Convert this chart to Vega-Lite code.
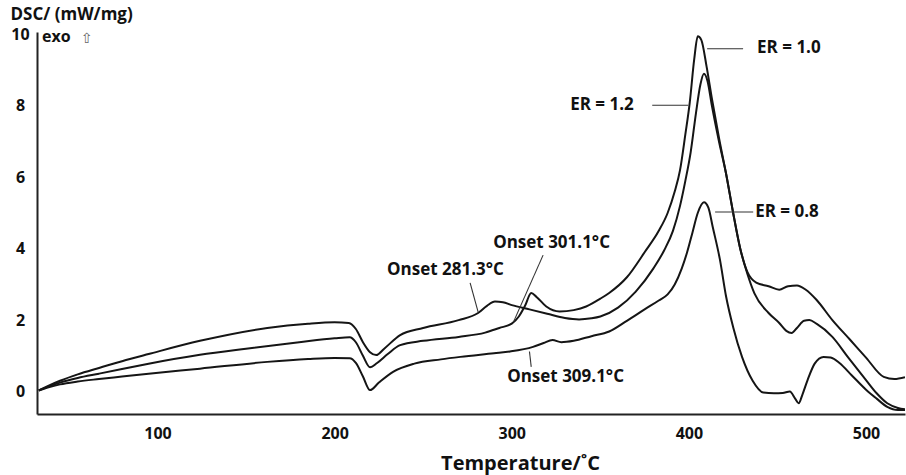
{
  "$schema": "https://vega.github.io/schema/vega-lite/v6.json",
  "width": 868,
  "height": 382,
  "autosize": "none",
  "padding": {"left": 37, "top": 32, "right": 1, "bottom": 61},
  "background": "white",
  "config": {
    "view": {"stroke": null},
    "font": "Open Sans",
    "text": {"font": "Open Sans", "fontWeight": "bold", "fontSize": 17, "color": "#111"}
  },
  "datasets": {
    "curves": [
      {"s":"A","T":33,"v":0.03},{"s":"A","T":38,"v":0.15},{"s":"A","T":45,"v":0.3},{"s":"A","T":55,"v":0.48},{"s":"A","T":67,"v":0.66},{"s":"A","T":80,"v":0.85},{"s":"A","T":95,"v":1.05},{"s":"A","T":124,"v":1.42},{"s":"A","T":162,"v":1.78},{"s":"A","T":185,"v":1.9},{"s":"A","T":200,"v":1.94},{"s":"A","T":208,"v":1.92},{"s":"A","T":212,"v":1.75},{"s":"A","T":216,"v":1.38},{"s":"A","T":220,"v":1.1},{"s":"A","T":223.5,"v":1.02},{"s":"A","T":228,"v":1.2},{"s":"A","T":237,"v":1.58},{"s":"A","T":250,"v":1.78},{"s":"A","T":270,"v":2.0},{"s":"A","T":281,"v":2.2},{"s":"A","T":286,"v":2.4},{"s":"A","T":290.5,"v":2.52},{"s":"A","T":295,"v":2.5},{"s":"A","T":300,"v":2.42},{"s":"A","T":310,"v":2.3},{"s":"A","T":320,"v":2.18},{"s":"A","T":330,"v":2.06},{"s":"A","T":338,"v":2.02},{"s":"A","T":345,"v":2.05},{"s":"A","T":350,"v":2.1},{"s":"A","T":360,"v":2.35},{"s":"A","T":370,"v":2.8},{"s":"A","T":380,"v":3.45},{"s":"A","T":386,"v":3.95},{"s":"A","T":391,"v":4.5},{"s":"A","T":395,"v":5.2},{"s":"A","T":398,"v":5.9},{"s":"A","T":401,"v":6.7},{"s":"A","T":404,"v":7.8},{"s":"A","T":406.5,"v":8.6},{"s":"A","T":408.5,"v":8.9},{"s":"A","T":410.5,"v":8.7},{"s":"A","T":413,"v":8.0},{"s":"A","T":417,"v":7.0},{"s":"A","T":421,"v":6.1},{"s":"A","T":425,"v":5.0},{"s":"A","T":429,"v":4.0},{"s":"A","T":433,"v":3.3},{"s":"A","T":437,"v":2.75},{"s":"A","T":445,"v":2.2},{"s":"A","T":451,"v":1.92},{"s":"A","T":455,"v":1.7},{"s":"A","T":458,"v":1.64},{"s":"A","T":461,"v":1.78},{"s":"A","T":465,"v":1.98},{"s":"A","T":468,"v":2.0},{"s":"A","T":472,"v":1.9},{"s":"A","T":481,"v":1.53},{"s":"A","T":490,"v":0.95},{"s":"A","T":500,"v":0.32},{"s":"A","T":506,"v":-0.05},{"s":"A","T":512,"v":-0.33},{"s":"A","T":518,"v":-0.46},{"s":"A","T":522,"v":-0.5},
      {"s":"B","T":33,"v":0.03},{"s":"B","T":38,"v":0.13},{"s":"B","T":45,"v":0.25},{"s":"B","T":55,"v":0.38},{"s":"B","T":67,"v":0.5},{"s":"B","T":80,"v":0.63},{"s":"B","T":95,"v":0.78},{"s":"B","T":124,"v":1.03},{"s":"B","T":150,"v":1.2},{"s":"B","T":180,"v":1.38},{"s":"B","T":200,"v":1.49},{"s":"B","T":208.5,"v":1.52},{"s":"B","T":212,"v":1.38},{"s":"B","T":216,"v":1.0},{"s":"B","T":220,"v":0.68},{"s":"B","T":224,"v":0.8},{"s":"B","T":230,"v":1.05},{"s":"B","T":237,"v":1.3},{"s":"B","T":250,"v":1.42},{"s":"B","T":270,"v":1.53},{"s":"B","T":285,"v":1.65},{"s":"B","T":293,"v":1.78},{"s":"B","T":300,"v":1.9},{"s":"B","T":304,"v":2.1},{"s":"B","T":307.5,"v":2.4},{"s":"B","T":311,"v":2.76},{"s":"B","T":314,"v":2.65},{"s":"B","T":319.5,"v":2.38},{"s":"B","T":327,"v":2.24},{"s":"B","T":335,"v":2.28},{"s":"B","T":342,"v":2.38},{"s":"B","T":350,"v":2.6},{"s":"B","T":355,"v":2.76},{"s":"B","T":365,"v":3.2},{"s":"B","T":375,"v":3.9},{"s":"B","T":383,"v":4.5},{"s":"B","T":388,"v":5.0},{"s":"B","T":392,"v":5.6},{"s":"B","T":395,"v":6.2},{"s":"B","T":398,"v":7.2},{"s":"B","T":400.5,"v":8.1},{"s":"B","T":403,"v":9.3},{"s":"B","T":405,"v":9.95},{"s":"B","T":407,"v":9.85},{"s":"B","T":410,"v":9.1},{"s":"B","T":413,"v":8.2},{"s":"B","T":417,"v":7.1},{"s":"B","T":421,"v":6.1},{"s":"B","T":425,"v":5.0},{"s":"B","T":429,"v":4.0},{"s":"B","T":433,"v":3.35},{"s":"B","T":438,"v":3.05},{"s":"B","T":445,"v":2.95},{"s":"B","T":451,"v":2.85},{"s":"B","T":456,"v":2.95},{"s":"B","T":461,"v":2.97},{"s":"B","T":466,"v":2.85},{"s":"B","T":472,"v":2.57},{"s":"B","T":481,"v":2.0},{"s":"B","T":491,"v":1.45},{"s":"B","T":500,"v":0.95},{"s":"B","T":510,"v":0.41},{"s":"B","T":516,"v":0.35},{"s":"B","T":522,"v":0.4},
      {"s":"C","T":33,"v":0.03},{"s":"C","T":38,"v":0.11},{"s":"C","T":45,"v":0.2},{"s":"C","T":55,"v":0.28},{"s":"C","T":67,"v":0.35},{"s":"C","T":80,"v":0.42},{"s":"C","T":95,"v":0.5},{"s":"C","T":124,"v":0.64},{"s":"C","T":162,"v":0.83},{"s":"C","T":185,"v":0.91},{"s":"C","T":200,"v":0.94},{"s":"C","T":208.5,"v":0.93},{"s":"C","T":212,"v":0.8},{"s":"C","T":216,"v":0.42},{"s":"C","T":220,"v":0.04},{"s":"C","T":225,"v":0.25},{"s":"C","T":233,"v":0.55},{"s":"C","T":245,"v":0.78},{"s":"C","T":260,"v":0.9},{"s":"C","T":271,"v":0.97},{"s":"C","T":290,"v":1.07},{"s":"C","T":299,"v":1.12},{"s":"C","T":312,"v":1.25},{"s":"C","T":318,"v":1.36},{"s":"C","T":323,"v":1.44},{"s":"C","T":328,"v":1.38},{"s":"C","T":335,"v":1.42},{"s":"C","T":345,"v":1.55},{"s":"C","T":355,"v":1.68},{"s":"C","T":365,"v":1.98},{"s":"C","T":375,"v":2.3},{"s":"C","T":383,"v":2.55},{"s":"C","T":388,"v":2.72},{"s":"C","T":392,"v":3.0},{"s":"C","T":396,"v":3.45},{"s":"C","T":399,"v":3.9},{"s":"C","T":402,"v":4.45},{"s":"C","T":405,"v":5.0},{"s":"C","T":408.5,"v":5.3},{"s":"C","T":411,"v":5.15},{"s":"C","T":413.5,"v":4.6},{"s":"C","T":417.5,"v":3.7},{"s":"C","T":421,"v":2.66},{"s":"C","T":425,"v":1.8},{"s":"C","T":430,"v":0.97},{"s":"C","T":436,"v":0.3},{"s":"C","T":442,"v":-0.03},{"s":"C","T":448,"v":-0.05},{"s":"C","T":453,"v":-0.04},{"s":"C","T":457,"v":0.0},{"s":"C","T":460,"v":-0.2},{"s":"C","T":462,"v":-0.33},{"s":"C","T":464,"v":-0.1},{"s":"C","T":467,"v":0.32},{"s":"C","T":471,"v":0.78},{"s":"C","T":476,"v":0.97},{"s":"C","T":480,"v":0.95},{"s":"C","T":485,"v":0.8},{"s":"C","T":492,"v":0.45},{"s":"C","T":500,"v":0.05},{"s":"C","T":506,"v":-0.2},{"s":"C","T":512,"v":-0.43},{"s":"C","T":518,"v":-0.52},{"s":"C","T":522,"v":-0.52}
    ],
    "leaders": [
      {"T":410.3,"T2":430.6,"v":9.6,"v2":9.6},
      {"T":379.3,"T2":399.6,"v":8.02,"v2":8.02},
      {"T":414.8,"T2":436.3,"v":5.03,"v2":5.03},
      {"T":276.5,"T2":281,"v":3.04,"v2":2.23},
      {"T":317.7,"T2":301,"v":3.82,"v2":1.95},
      {"T":310,"T2":311,"v":1.12,"v2":0.69}
    ],
    "labels": [
      {"T":438.5,"v":9.62,"label":"ER = 1.0"},
      {"T":333,"v":8.02,"label":"ER = 1.2"},
      {"T":437.4,"v":5.03,"label":"ER = 0.8"},
      {"T":229.6,"v":3.4,"label":"Onset 281.3°C"},
      {"T":289.5,"v":4.16,"label":"Onset 301.1°C"},
      {"T":297.4,"v":0.41,"label":"Onset 309.1°C"}
    ],
    "exo": [
      {"T":34.8,"v":9.93,"label":"exo"}
    ],
    "arrow": [
      {"T":60,"v":9.86,"label":"⇧"}
    ]
  },
  "layer": [
    {
      "data": {"name": "curves"},
      "mark": {"type": "line", "interpolate": "monotone", "stroke": "#151515", "strokeWidth": 2, "clip": true},
      "encoding": {
        "x": {
          "field": "T", "type": "quantitative",
          "scale": {"domain": [32, 522], "nice": false, "zero": false},
          "axis": {
            "values": [100, 200, 300, 400, 500],
            "grid": false, "ticks": false,
            "domainColor": "#222", "domainWidth": 2,
            "labelFont": "Open Sans", "labelFontWeight": "bold", "labelFontSize": 16, "labelColor": "#111",
            "labelPadding": 11,
            "title": "Temperature/˚C",
            "titleFont": "Open Sans", "titleFontWeight": "bold", "titleFontSize": 20, "titleColor": "#111",
            "titleX": 483, "titleY": 55, "titleBaseline": "alphabetic", "titleAlign": "center"
          }
        },
        "y": {
          "field": "v", "type": "quantitative",
          "scale": {"domain": [-0.63, 10.07], "nice": false, "zero": false},
          "axis": {
            "values": [0, 2, 4, 6, 8, 10],
            "grid": false, "ticks": false,
            "domainColor": "#222", "domainWidth": 2,
            "labelFont": "Open Sans", "labelFontWeight": "bold", "labelFontSize": 16, "labelColor": "#111",
            "labelAlign": "center", "labelPadding": 17,
            "title": "DSC/ (mW/mg)",
            "titleFont": "Open Sans", "titleFontWeight": "bold", "titleFontSize": 17, "titleColor": "#111",
            "titleAngle": 0, "titleAlign": "left", "titleBaseline": "alphabetic",
            "titleX": -27, "titleY": -13
          }
        },
        "detail": {"field": "s", "type": "nominal"},
        "order": {"field": "T", "type": "quantitative"}
      }
    },
    {
      "data": {"name": "leaders"},
      "mark": {"type": "rule", "stroke": "#333", "strokeWidth": 1.1},
      "encoding": {
        "x": {"field": "T", "type": "quantitative"},
        "x2": {"field": "T2"},
        "y": {"field": "v", "type": "quantitative"},
        "y2": {"field": "v2"}
      }
    },
    {
      "data": {"name": "labels"},
      "mark": {"type": "text", "align": "left", "baseline": "middle", "fontSize": 17, "fontWeight": "bold"},
      "encoding": {
        "x": {"field": "T", "type": "quantitative"},
        "y": {"field": "v", "type": "quantitative"},
        "text": {"field": "label"}
      }
    },
    {
      "data": {"name": "exo"},
      "mark": {"type": "text", "align": "left", "baseline": "middle", "fontSize": 16, "fontWeight": "bold"},
      "encoding": {
        "x": {"field": "T", "type": "quantitative"},
        "y": {"field": "v", "type": "quantitative"},
        "text": {"field": "label"}
      }
    },
    {
      "data": {"name": "arrow"},
      "mark": {"type": "text", "align": "center", "baseline": "middle", "fontSize": 14, "font": "DejaVu Sans", "fontWeight": "normal", "color": "#666"},
      "encoding": {
        "x": {"field": "T", "type": "quantitative"},
        "y": {"field": "v", "type": "quantitative"},
        "text": {"field": "label"}
      }
    }
  ]
}
